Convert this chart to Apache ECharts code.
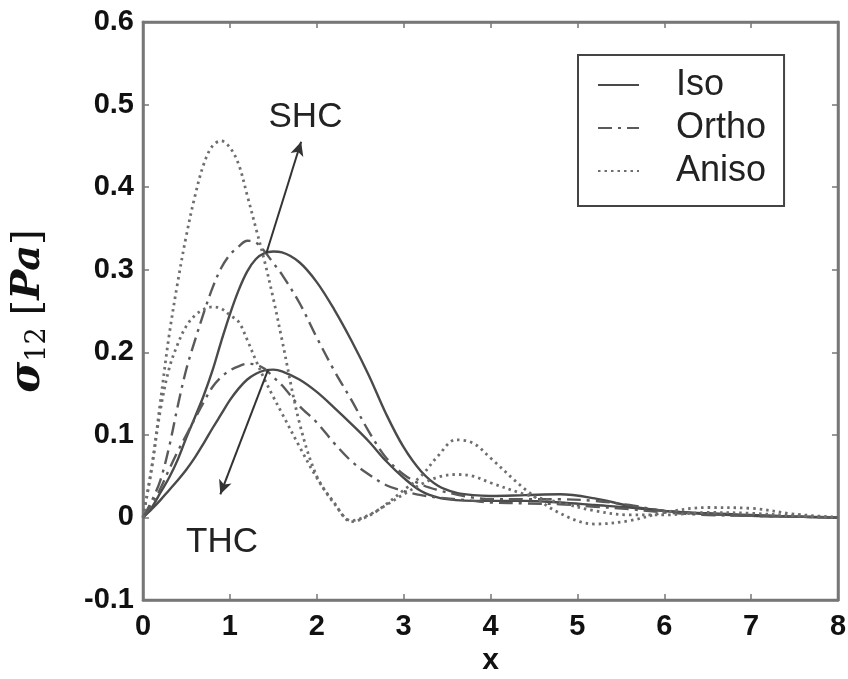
<!DOCTYPE html>
<html>
<head>
<meta charset="utf-8">
<script src="https://cdn.jsdelivr.net/npm/echarts@6/dist/echarts.min.js"></script>
<style>
html,body{margin:0;padding:0;background:#fff;}
#chart{width:848px;height:679px;}
</style>
</head>
<body>
<div id="chart"></div>
<script>
// shared x grid
var xValues = [0,0.1,0.2,0.3,0.4,0.5,0.6,0.7,0.8,0.9,1.0,1.1,1.2,1.3,1.4,1.5,1.6,1.8,2.0,2.2,2.4,2.6,2.8,3.0,3.2,3.4,3.6,3.8,4.0,4.4,4.8,5.2,5.6,6.0,6.5,7.0,7.5,8.0];

var isoSHC = [0,0.012,0.03,0.048,0.07,0.097,0.122,0.148,0.178,0.213,0.246,0.275,0.298,0.313,0.320,0.322,0.321,0.309,0.285,0.252,0.214,0.172,0.125,0.085,0.056,0.038,0.030,0.027,0.026,0.027,0.028,0.023,0.014,0.008,0.005,0.003,0.001,0];
var isoTHC = [0,0.01,0.021,0.033,0.045,0.058,0.073,0.09,0.108,0.125,0.142,0.156,0.167,0.174,0.178,0.179,0.177,0.167,0.152,0.133,0.113,0.092,0.068,0.048,0.032,0.024,0.021,0.02,0.02,0.02,0.018,0.015,0.012,0.008,0.004,0.002,0.001,0];
var orthoSHC = [0,0.02,0.045,0.085,0.135,0.18,0.215,0.248,0.278,0.302,0.318,0.328,0.335,0.333,0.322,0.308,0.294,0.26,0.218,0.178,0.142,0.104,0.072,0.052,0.04,0.033,0.028,0.024,0.022,0.022,0.022,0.02,0.015,0.008,0.004,0.002,0.001,0];
var orthoTHC = [0,0.015,0.035,0.058,0.08,0.1,0.12,0.14,0.158,0.17,0.178,0.183,0.186,0.185,0.18,0.17,0.16,0.135,0.115,0.09,0.068,0.052,0.039,0.032,0.027,0.024,0.022,0.02,0.018,0.017,0.016,0.013,0.01,0.006,0.003,0.002,0.001,0];
var anisoSHC = [0,0.06,0.14,0.22,0.285,0.342,0.39,0.428,0.45,0.456,0.448,0.428,0.39,0.35,0.31,0.265,0.215,0.115,0.05,0.018,-0.005,0.002,0.016,0.033,0.05,0.075,0.094,0.09,0.072,0.034,0.005,-0.008,-0.004,0.006,0.012,0.011,0.004,0];
var anisoTHC = [0,0.06,0.13,0.18,0.21,0.232,0.245,0.252,0.255,0.253,0.245,0.237,0.215,0.19,0.167,0.146,0.126,0.086,0.048,0.017,-0.004,0.003,0.015,0.028,0.04,0.049,0.052,0.05,0.042,0.028,0.018,0.008,0.003,0.003,0.006,0.005,0.002,0];

var xTicks = [0,1,2,3,4,5,6,7,8];
var yTicks = [-0.1,0,0.1,0.2,0.3,0.4,0.5,0.6];
var legendNames = ['Iso','Ortho','Aniso'];

function pairs(ys){ return xValues.map(function(x,i){ return [x, ys[i]]; }); }

var styles = {
  Iso:   {type:'solid', color:'#4a4a4a', width:2.4},
  Ortho: {type:[14,6,3,6], color:'#5a5a5a', width:2.4},
  Aniso: {type:[2.5,4], color:'#6e6e6e', width:2.8}
};

function mk(name, ys, extra){
  var s = {
    name: name, type:'line', data: pairs(ys), showSymbol:false, symbol:'none',
    smooth:0.35, lineStyle: styles[name], itemStyle:{color: styles[name].color},
    z: 3
  };
  if (extra) for (var k in extra) s[k] = extra[k];
  return s;
}

var sans = 'Liberation Sans, Arial, sans-serif';
var labelFont = {fontFamily:sans, fontWeight:'bold', fontSize:29, color:'#111'};
var frame = {color:'#777', width:2.5};
var tick = {show:true, inside:true, length:6, lineStyle:{color:'#777', width:1.5}};

var chart = echarts.init(document.getElementById('chart'), null, {renderer:'canvas'});
chart.setOption({
  animation:false,
  backgroundColor:'#fff',
  grid:{left:143, right:10, top:22, bottom:79, outerBoundsMode:'none', containLabel:false,
        show:true, borderColor:'#777', borderWidth:2.5, backgroundColor:'transparent'},
  legend:{
    data: legendNames, orient:'vertical', left:578, top:55,
    padding:[12,18,17,19], itemGap:7, itemWidth:41, itemHeight:14,
    borderColor:'#444', borderWidth:2, backgroundColor:'#fff',
    itemStyle:{opacity:0, color:'rgba(0,0,0,0)', borderWidth:0},
    textStyle:{fontFamily:sans, fontSize:36, lineHeight:33, color:'#222', padding:[0,0,0,32]}
  },
  xAxis:[{
    type:'value', min:0, max:8, interval:1,
    name:'x', nameLocation:'middle', nameGap:46,
    nameTextStyle:{fontFamily:sans, fontWeight:'bold', fontSize:30, color:'#111'},
    axisLine:{show:true, onZero:false, lineStyle:frame},
    axisTick:tick,
    axisLabel:Object.assign({margin:12, formatter:function(v){return String(xTicks[Math.round(v)]);}}, labelFont),
    splitLine:{show:false}
  },{
    type:'value', min:0, max:8, interval:1, position:'top',
    axisLine:{show:true, onZero:false, lineStyle:frame},
    axisTick:tick, axisLabel:{show:false}, splitLine:{show:false}
  }],
  yAxis:[{
    type:'value', min:-0.1, max:0.6, interval:0.1,
    name:'{s|σ}{sub|12}{sp| }{b|[}{pa|Pa}{b|]}', nameLocation:'middle', nameGap:92, nameRotate:90,
    nameTextStyle:{
      rich:{
        s:{fontFamily:'DejaVu Serif, serif', fontStyle:'italic', fontWeight:'bold', fontSize:42, color:'#111'},
        sub:{fontFamily:'DejaVu Serif, serif', fontSize:27, color:'#111', padding:[18,0,0,0]},
        sp:{fontSize:14, width:12},
        b:{fontFamily:'DejaVu Serif, serif', fontSize:40, color:'#111'},
        pa:{fontFamily:'DejaVu Serif, serif', fontStyle:'italic', fontWeight:'bold', fontSize:40, color:'#111'}
      }
    },
    axisLine:{show:true, onZero:false, lineStyle:frame},
    axisTick:tick,
    axisLabel:Object.assign({margin:9, formatter:function(v){
      var r = Math.round(v*10)/10; return r===0 ? '0' : r.toFixed(1);
    }}, labelFont),
    splitLine:{show:false}
  },{
    type:'value', min:-0.1, max:0.6, interval:0.1, position:'right',
    axisLine:{show:true, onZero:false, lineStyle:frame},
    axisTick:tick, axisLabel:{show:false}, splitLine:{show:false}
  }],
  series:[
    mk('Iso', isoSHC, {
      markLine:{
        silent:true, symbol:['none','arrow'], symbolSize:[10,14], animation:false,
        label:{show:false},
        lineStyle:{type:'solid', color:'#333', width:2},
        data:[
          [{coord:[1.42,0.32]},{coord:[1.82,0.455]}],
          [{coord:[1.44,0.179]},{coord:[0.89,0.028]}]
        ]
      },
      markPoint:{
        silent:true, symbol:'circle', symbolSize:0,
        label:{show:true, position:'inside', fontFamily:sans, fontSize:35, color:'#222'},
        data:[
          {coord:[1.87,0.484], value:'SHC', label:{formatter:'SHC'}},
          {coord:[0.91,-0.03], value:'THC', label:{formatter:'THC'}}
        ]
      }
    }),
    mk('Iso', isoTHC),
    mk('Ortho', orthoSHC),
    mk('Ortho', orthoTHC),
    mk('Aniso', anisoSHC),
    mk('Aniso', anisoTHC),
    {type:'line', xAxisIndex:1, yAxisIndex:1, data:[], silent:true}
  ]
});
</script>
</body>
</html>
